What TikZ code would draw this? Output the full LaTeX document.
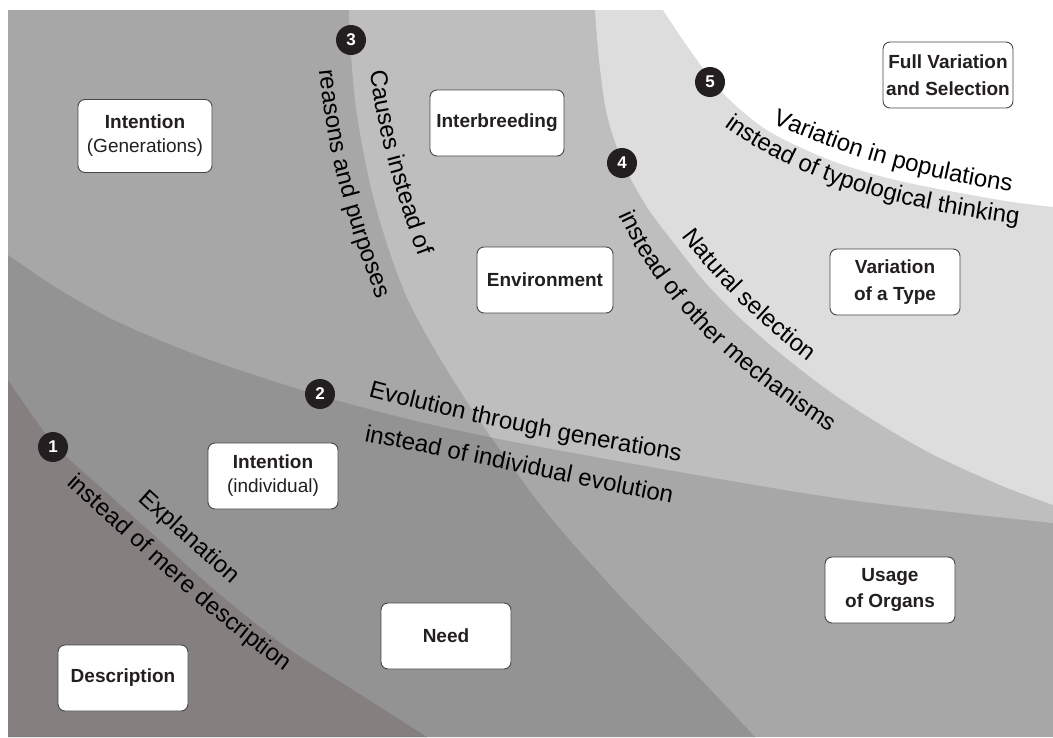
\documentclass[tikz,border=0pt]{standalone}
\usepackage{fontspec}
\setmainfont{Liberation Sans}
\usetikzlibrary{decorations.text}
\definecolor{regA}{RGB}{133,127,128}
\definecolor{regB}{RGB}{147,147,147}
\definecolor{regC}{RGB}{167,167,167}
\definecolor{regD}{RGB}{190,190,190}
\definecolor{regE}{RGB}{221,221,221}
\definecolor{ink}{RGB}{35,31,32}
\definecolor{boxline}{RGB}{70,70,70}
\newcommand\lblfont{\fontsize{24}{28}\selectfont}
\newcommand\curveA{plot[smooth] coordinates {(8,380) (53,443) (107,493) (148,530) (217,592) (286,647) (350,688) (427,737)}}
\newcommand\curveB{plot[smooth] coordinates {(8,255) (60,290) (120,323) (210,360) (318,395) (420,422) (520,443) (680,472) (850,500) (1053,523)}}
\newcommand\curveC{plot[smooth] coordinates {(349,10) (350,40) (355,100) (363,150) (374,200) (389,250) (408,300) (435,350) (466,400) (500,450) (550,517) (620,596) (690,668) (755,737)}}
\newcommand\curveD{plot[smooth] coordinates {(595,10) (599,60) (607,115) (623,163) (647,207) (677,247) (705,282) (740,318) (780,353) (825,388) (870,418) (930,453) (1000,485) (1053,505)}}
\newcommand\curveE{plot[smooth] coordinates {(663,10) (690,50) (723,93) (767,130) (830,160) (900,181) (1000,200) (1053,207)}}
\tikzset{
  box/.style={draw=boxline, line width=0.9pt, fill=white, rounded corners=7pt, minimum width=130pt, minimum height=66pt, align=center, text=ink, inner sep=2pt},
  boxbold/.style={box, font=\bfseries\fontsize{19}{27}\selectfont},
  boxmix/.style={box, font=\fontsize{19}{24}\selectfont},
  num/.style={circle, fill=ink, text=white, minimum size=30pt, inner sep=0pt, font=\bfseries\fontsize{17}{17}\selectfont},
  curvetext/.style={decorate, decoration={text along path, text={|\lblfont|#1}}}
}
\begin{document}
\begin{tikzpicture}[x=1pt,y=-1pt]
\useasboundingbox (0,0) rectangle (1053,737);
% regions
\fill[regC] (8,10) rectangle (1053,737);
\begin{scope}
  \clip \curveC -- (8,737) -- (8,10) -- cycle;
  \fill[regB] \curveB -- (1053,737) -- (8,737) -- cycle;
\end{scope}
\begin{scope}
  \clip \curveC -- (1053,737) -- (1053,10) -- cycle;
  \fill[regD] \curveB -- (1053,10) -- (8,10) -- cycle;
\end{scope}
\fill[regE] \curveD -- (1053,10) -- cycle;
\fill[white] \curveE -- (1053,10) -- cycle;
\fill[regA] \curveA -- (8,737) -- cycle;
% boxes
\node[boxmix, minimum width=134pt, minimum height=73pt] (intgen) at (145,136) {\textbf{Intention}\\(Generations)};
\node[boxbold, minimum width=134pt] (inter) at (497,123) {Interbreeding};
\node[boxbold, minimum width=136pt] (env) at (545,280) {Environment};
\node[boxbold] (full) at (948,75) {Full Variation\\and Selection};
\node[boxbold] (vart) at (895,282) {Variation\\of a Type};
\node[boxmix] (intind) at (273,476) {\textbf{Intention}\\(individual)};
\node[boxbold] (need) at (446,636) {Need};
\node[boxbold] (desc) at (123,678) {Description};
\node[boxbold, font=\bfseries\fontsize{19}{26}\selectfont] (usage) at (890,590) {Usage\\of Organs};
% numbered markers
\node[num] (n1) at (53,447) {1};
\node[num] (n2) at (320,394) {2};
\node[num] (n3) at (351,40) {3};
\node[num] (n4) at (622,163) {4};
\node[num] (n5) at (710,82) {5};
% curved labels
\begin{scope}[color=ink]
\path[curvetext={Explanation}] (138,500) .. controls (182,540) and (227,580) .. (271,620);
\path[curvetext={instead of mere description}] (66,484) .. controls (157,566) and (244,652) .. (350,715);
\path[curvetext={Evolution through generations}] (368,396) .. controls (496,431) and (629,453) .. (760,474);
\path[curvetext={instead of individual evolution}] (364,441) .. controls (494,466) and (630,497) .. (760,520);
\path[curvetext={Causes instead of}] (370,71) .. controls (381,150) and (405,225) .. (435,299);
\path[curvetext={reasons and purposes}] (319,70) .. controls (328,162) and (355,250) .. (392,335);
\path[curvetext={Natural selection}] (682,236) .. controls (731,302) and (794,355) .. (862,400);
\path[curvetext={instead of other mechanisms}] (619,215) .. controls (670,330) and (792,416) .. (908,477);
\path[curvetext={Variation in populations}] (772,123) .. controls (862,165) and (961,186) .. (1060,199);
\path[curvetext={instead of typological thinking}] (724,126) .. controls (821,197) and (941,215) .. (1060,230);
\end{scope}
\end{tikzpicture}
\end{document}
